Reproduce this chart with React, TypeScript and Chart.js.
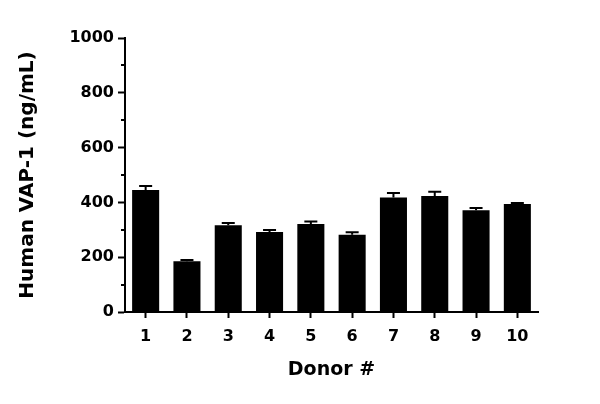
import { useEffect, useRef } from "react"
import { Chart, registerables } from "chart.js"

Chart.register(...registerables)

const donors = ["1", "2", "3", "4", "5", "6", "7", "8", "9", "10"]
const vap1 = [445, 185, 317, 292, 321, 282, 418, 423, 371, 394]
const sem = [15, 5, 8, 7, 9, 9, 16, 16, 9, 4]
const yTicks = [0, 200, 400, 600, 800, 1000]

const FONT = "'DejaVu Sans', sans-serif"

const isMajor = (v: number) => yTicks.includes(v)

// draws the upper half of each error bar (line + cap)
const errorBars = {
  id: "errorBars",
  afterDatasetsDraw(chart: any) {
    const { ctx } = chart
    const yScale = chart.scales.y
    const meta = chart.getDatasetMeta(0)
    ctx.save()
    ctx.strokeStyle = "#000"
    ctx.lineWidth = 2
    meta.data.forEach((bar: any, i: number) => {
      const top = yScale.getPixelForValue(vap1[i] + sem[i])
      ctx.beginPath()
      ctx.moveTo(bar.x, bar.y)
      ctx.lineTo(bar.x, top)
      ctx.moveTo(bar.x - 6.5, top)
      ctx.lineTo(bar.x + 6.5, top)
      ctx.stroke()
    })
    ctx.restore()
  },
}

// shorter minor ticks on the y axis
const minorTicks = {
  id: "minorTicks",
  afterDraw(chart: any) {
    const { ctx } = chart
    const y = chart.scales.y
    ctx.save()
    ctx.strokeStyle = "#000"
    ctx.lineWidth = 2
    y.ticks.forEach((t: any) => {
      if (isMajor(t.value)) return
      const py = Math.round(y.getPixelForValue(t.value))
      ctx.beginPath()
      ctx.moveTo(y.right - 4, py)
      ctx.lineTo(y.right, py)
      ctx.stroke()
    })
    ctx.restore()
  },
}

export default function App() {
  const chartRef = useRef<HTMLCanvasElement>(null)
  const chartInstance = useRef<Chart | null>(null)

  useEffect(() => {
    if (!chartRef.current) return
    if (chartInstance.current) chartInstance.current.destroy()

    chartInstance.current = new Chart(chartRef.current, {
      type: "bar",
      data: {
        labels: donors,
        datasets: [
          {
            label: "Human VAP-1",
            data: vap1,
            backgroundColor: "#000",
            borderWidth: 0,
            barPercentage: 0.655,
            categoryPercentage: 1,
          },
        ],
      },
      options: {
        responsive: true,
        maintainAspectRatio: false,
        animation: false,
        devicePixelRatio: 1,
        layout: { padding: { top: 38, right: 62, left: 0, bottom: 0 } },
        plugins: {
          legend: { display: false },
          tooltip: { enabled: false },
        },
        scales: {
          x: {
            afterFit: (scale: any) => {
              scale.height = 92
            },
            grid: {
              offset: false,
              drawOnChartArea: false,
              drawTicks: true,
              tickLength: 6,
              tickWidth: 2,
              tickColor: "#000",
            },
            border: { display: true, color: "#000", width: 2 },
            ticks: {
              color: "#000",
              padding: 9,
              maxRotation: 0,
              font: { family: FONT, size: 16, weight: "bold" },
            },
            title: {
              display: true,
              text: "Donor #",
              color: "#000",
              padding: { top: 0, bottom: 23 },
              font: { family: FONT, size: 19, weight: "bold" },
            },
          },
          y: {
            min: 0,
            max: 1000,
            afterFit: (scale: any) => {
              scale.width = 125
            },
            grid: {
              drawOnChartArea: false,
              drawTicks: true,
              tickLength: 7,
              tickWidth: 2,
              tickColor: (c: any) => (c.tick && isMajor(c.tick.value) ? "#000" : "rgba(0,0,0,0)"),
            },
            border: { display: true, color: "#000", width: 2 },
            ticks: {
              stepSize: 100,
              color: "#000",
              padding: 4,
              font: { family: FONT, size: 16, weight: "bold" },
              callback: (v: any) => (isMajor(Number(v)) ? String(v) : ""),
            },
            title: {
              display: true,
              text: "Human VAP-1 (ng/mL)",
              color: "#000",
              padding: { top: 16, bottom: 0 },
              font: { family: FONT, size: 20, weight: "bold" },
            },
          },
        },
      },
      plugins: [errorBars, minorTicks],
    })

    return () => {
      if (chartInstance.current) {
        chartInstance.current.destroy()
        chartInstance.current = null
      }
    }
  }, [])

  return (
    <div style={{ position: "fixed", left: 0, top: 0, width: 600, height: 404, background: "#fff" }}>
      <canvas ref={chartRef}></canvas>
    </div>
  )
}
